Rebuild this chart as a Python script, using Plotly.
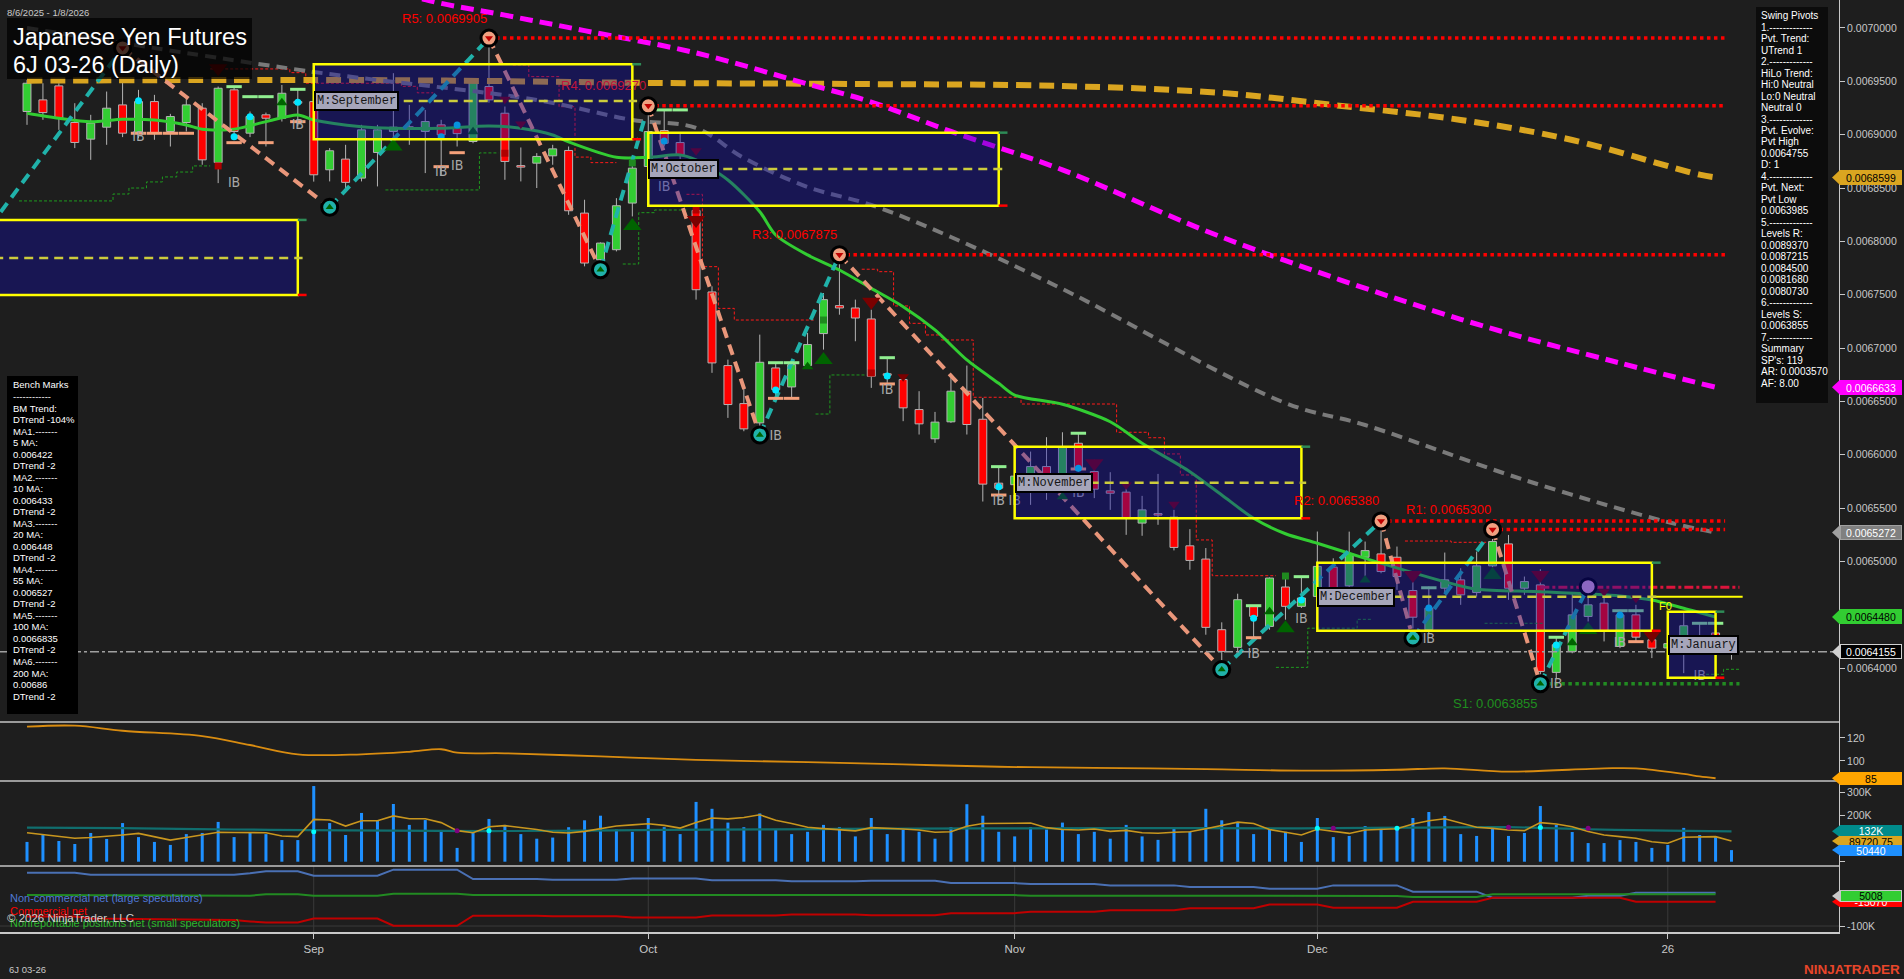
import plotly.graph_objects as go

# ====================== DATA ======================
bar_idx = list(range(108))

opens = [0.0069217, 0.0069326, 0.0069457, 0.0069114, 0.0068958, 0.0069070, 0.0069279, 0.0069014, 0.0069310, 0.0069030,
         0.0069114, 0.0069248, 0.0068739, 0.0069420, 0.0069014, 0.0069186, 0.0069154, 0.0069310, 0.0069310, 0.0068671,
         0.0068771, 0.0068593, 0.0068833, 0.0069030, 0.0069070, 0.0069030, 0.0069092, 0.0069060, 0.0068936, 0.0069451,
         0.0069201, 0.0068700, 0.0068733, 0.0068802, 0.0068852, 0.0068265, 0.0067828, 0.0067922, 0.0068359, 0.0068702,
         0.0069039, 0.0068926, 0.0068290, 0.0067526, 0.0066836, 0.0066480, 0.0066299, 0.0066814, 0.0066636, 0.0066836,
         0.0067136, 0.0067398, 0.0067376, 0.0067273, 0.0066750, 0.0066705, 0.0066424, 0.0066150, 0.0066309, 0.0066596,
         0.0066333, 0.0065734, 0.0065720, 0.0065672, 0.0065890, 0.0065678, 0.0066108, 0.0065843, 0.0065662, 0.0065650,
         0.0065360, 0.0065438, 0.0065416, 0.0065147, 0.0065023, 0.0064361, 0.0064196, 0.0064580, 0.0064392, 0.0064761,
         0.0064580, 0.0064673, 0.0064947, 0.0064772, 0.0065040, 0.0065071, 0.0065040, 0.0064728, 0.0064360, 0.0064750,
         0.0064828, 0.0064709, 0.0064959, 0.0065165, 0.0064750, 0.0064781, 0.0063961, 0.0064157, 0.0064485, 0.0064610,
         0.0064204, 0.0064500, 0.0064266, 0.0064190, 0.0064157, 0.0064298, 0.0064330, 0.0064200]
highs = [0.0069513, 0.0069482, 0.0069482, 0.0069295, 0.0069186, 0.0069404, 0.0069498, 0.0069420, 0.0069373, 0.0069195,
         0.0069357, 0.0069295, 0.0069451, 0.0069451, 0.0069217, 0.0069207, 0.0069466, 0.0069420, 0.0069330, 0.0068874,
         0.0068905, 0.0069092, 0.0069092, 0.0069576, 0.0069279, 0.0069232, 0.0069139, 0.0069092, 0.0069529, 0.0069880,
         0.0069264, 0.0068880, 0.0068827, 0.0068905, 0.0068889, 0.0068390, 0.0067990, 0.0068405, 0.0068733, 0.0069270,
         0.0069232, 0.0069014, 0.0068330, 0.0067579, 0.0066892, 0.0066627, 0.0067126, 0.0066861, 0.0066867, 0.0067142,
         0.0067516, 0.0067884, 0.0067454, 0.0067360, 0.0066908, 0.0066736, 0.0066596, 0.0066402, 0.0066721, 0.0066836,
         0.0066533, 0.0065890, 0.0065900, 0.0066030, 0.0066165, 0.0066211, 0.0066202, 0.0065952, 0.0065837, 0.0065750,
         0.0065615, 0.0065821, 0.0065484, 0.0065303, 0.0065126, 0.0064430, 0.0064698, 0.0064586, 0.0064851, 0.0064876,
         0.0064860, 0.0065281, 0.0065030, 0.0065280, 0.0065187, 0.0065380, 0.0065140, 0.0064812, 0.0064766, 0.0065084,
         0.0064937, 0.0065093, 0.0065300, 0.0065249, 0.0064859, 0.0064928, 0.0064291, 0.0064703, 0.0064764, 0.0064688,
         0.0064547, 0.0064594, 0.0064297, 0.0064330, 0.0064516, 0.0064422, 0.0064422, 0.0064300]
lows = [0.0069092, 0.0069139, 0.0069045, 0.0068874, 0.0068764, 0.0068905, 0.0068977, 0.0068967, 0.0068952, 0.0068889,
        0.0069030, 0.0068718, 0.0068546, 0.0068967, 0.0068977, 0.0068889, 0.0069123, 0.0069076, 0.0068560, 0.0068562,
        0.0068500, 0.0068562, 0.0068515, 0.0068920, 0.0068905, 0.0068640, 0.0068624, 0.0068889, 0.0068920, 0.0069300,
        0.0068577, 0.0068562, 0.0068500, 0.0068718, 0.0068249, 0.0067766, 0.0067735, 0.0067906, 0.0068234, 0.0068671,
        0.0068889, 0.0068695, 0.0067454, 0.0066768, 0.0066346, 0.0066221, 0.0066186, 0.0066533, 0.0066533, 0.0066830,
        0.0066986, 0.0067313, 0.0067064, 0.0066627, 0.0066674, 0.0066315, 0.0066190, 0.0066112, 0.0066299, 0.0066190,
        0.0065562, 0.0065562, 0.0065560, 0.0065531, 0.0065578, 0.0065578, 0.0065843, 0.0065594, 0.0065484, 0.0065250,
        0.0065241, 0.0065344, 0.0065104, 0.0064923, 0.0064314, 0.0063987, 0.0064158, 0.0064283, 0.0064361, 0.0064455,
        0.0064564, 0.0064667, 0.0064700, 0.0064734, 0.0064859, 0.0064890, 0.0064734, 0.0064283, 0.0064329, 0.0064703,
        0.0064594, 0.0064672, 0.0064946, 0.0064641, 0.0064688, 0.0063855, 0.0063908, 0.0064140, 0.0064438, 0.0064251,
        0.0064188, 0.0064245, 0.0064095, 0.0064120, 0.0063954, 0.0064188, 0.0064200, 0.0064080]
closes = [0.0069482, 0.0069207, 0.0069154, 0.0068927, 0.0069108, 0.0069248, 0.0069014, 0.0069310, 0.0069020, 0.0069170,
          0.0069279, 0.0068764, 0.0069435, 0.0069030, 0.0069170, 0.0069154, 0.0069388, 0.0069295, 0.0068624, 0.0068849,
          0.0068553, 0.0069045, 0.0069045, 0.0069070, 0.0069060, 0.0069123, 0.0068998, 0.0069010, 0.0069507, 0.0069326,
          0.0068749, 0.0068696, 0.0068796, 0.0068867, 0.0068287, 0.0067797, 0.0067984, 0.0068334, 0.0068686, 0.0069029,
          0.0068920, 0.0068811, 0.0067547, 0.0066861, 0.0066471, 0.0066243, 0.0066867, 0.0066611, 0.0066845, 0.0067033,
          0.0067454, 0.0067376, 0.0067282, 0.0066736, 0.0066745, 0.0066440, 0.0066290, 0.0066306, 0.0066596, 0.0066284,
          0.0065725, 0.0065687, 0.0065800, 0.0065890, 0.0065678, 0.0066077, 0.0065874, 0.0065678, 0.0065640, 0.0065406,
          0.0065484, 0.0065435, 0.0065132, 0.0065010, 0.0064383, 0.0064158, 0.0064642, 0.0064486, 0.0064845, 0.0064580,
          0.0064658, 0.0064954, 0.0064750, 0.0065071, 0.0065102, 0.0064906, 0.0064859, 0.0064478, 0.0064563, 0.0064828,
          0.0064688, 0.0064959, 0.0065187, 0.0064750, 0.0064812, 0.0063970, 0.0064220, 0.0064500, 0.0064594, 0.0064344,
          0.0064500, 0.0064291, 0.0064188, 0.0064230, 0.0064398, 0.0064251, 0.0064300, 0.0064155]

month_tick_idx = [18, 39, 62, 81, 103]
month_tick_text = ["Sep", "Oct", "Nov", "Dec", "26"]

# moving averages (sampled)
ma20_idx = [0, 2, 4, 6, 8, 10, 11, 13, 15, 17, 18, 21, 23, 26, 29, 31, 33, 34, 37, 39, 41, 42, 44, 46, 47, 49, 51, 53,
            55, 57, 59, 61, 62, 65, 68, 70, 73, 75, 77, 79, 81, 84, 89, 91, 95, 100, 102, 104, 106]
ma20_val = [0.0069201, 0.0069154, 0.0069122, 0.0069144, 0.0069138, 0.0069091, 0.0069051, 0.0069051, 0.0069122, 0.0069185,
            0.0069138, 0.0069075, 0.0069060, 0.0069060, 0.0069082, 0.0069060, 0.0068997, 0.0068932, 0.0068788, 0.0068788,
            0.0068810, 0.0068763, 0.0068575, 0.0068278, 0.0068060, 0.0067873, 0.0067732, 0.0067560, 0.0067388, 0.0067170,
            0.0066889, 0.0066670, 0.0066560, 0.0066473, 0.0066310, 0.0066108, 0.0065842, 0.0065623, 0.0065405, 0.0065260,
            0.0065171, 0.0065030, 0.0064811, 0.0064740, 0.0064717, 0.0064677, 0.0064639, 0.0064562, 0.0064480]
ma55_idx = [0, 18, 32, 38, 42, 45, 49, 53, 58, 65, 79, 84, 94, 103, 106]
ma55_val = [0.0070000, 0.0069588, 0.0069325, 0.0069138, 0.0069063, 0.0068782, 0.0068510, 0.0068341, 0.0068041,
            0.0067554, 0.0066485, 0.0066279, 0.0065764, 0.0065370, 0.0065272]
ma100_idx = [20, 25, 30, 35, 42, 49, 53, 58, 65, 75, 90, 100, 106]
ma100_val = [0.0070500, 0.0070265, 0.0070120, 0.0069975, 0.0069766, 0.0069475, 0.0069306, 0.0069030, 0.0068670,
             0.0068040, 0.0067270, 0.0066860, 0.0066633]
ma200_idx = [0, 18, 29, 39, 52, 65, 75, 82, 90, 97, 105, 106]
ma200_val = [0.0069506, 0.0069513, 0.0069503, 0.0069485, 0.0069475, 0.0069456, 0.0069391, 0.0069278, 0.0069138,
             0.0068950, 0.0068625, 0.0068599]

# swing pivots (zigzag)
pivot_idx = [-3, 6, 19, 29, 36, 39, 46, 51, 75, 85, 87, 92, 95, 98]
pivot_val = [0.0068005, 0.0069813, 0.0068320, 0.0069905, 0.0067735, 0.0069270, 0.0066186, 0.0067875, 0.0063987,
             0.0065380, 0.0064283, 0.0065300, 0.0063855, 0.0064764]

level_names = ["R5", "R4", "R3", "R2", "R1", "S1"]
level_idx = [29, 39, 51, 85, 92, 95]
level_val = [0.0069905, 0.0069270, 0.0067875, 0.0065380, 0.0065300, 0.0063855]
evolve_idx = 95
evolve_val = 0.0064758
last_price = 0.0064155

# monthly range boxes
month_names = ["", "M:September", "M:October", "M:November", "M:December", "M:January"]
month_start = [-3, 18, 39, 62, 81, 103]
month_end = [17, 38, 61, 80, 102, 106]
month_high = [0.0068201, 0.0069660, 0.0069019, 0.0066076, 0.0064989, 0.0064530]
month_low = [0.0067498, 0.0068957, 0.0068335, 0.0065405, 0.0064351, 0.0063911]
month_mid = [0.0067844, 0.0069316, 0.0068679, 0.0065739, 0.0064670, 0.0064221]

# trailing stop steps
stop_short_segs = [
    [(11.5, 0.0069616), (16.5, 0.0069581), (17.5, 0.0069482), (23.5, 0.0069453), (24.5, 0.0069392), (25.5, 0.0069392)],
    [(30.5, 0.0069653), (31.5, 0.0069544), (33.4, 0.0069262), (34.4, 0.0068790), (35.4, 0.0068738), (37.0, 0.0068738)],
    [(41.4, 0.0068441), (42.4, 0.0067763), (43.4, 0.0067372), (44.4, 0.0067263), (49.5, 0.0067263)],
    [(52.4, 0.0067739), (53.4, 0.0067716), (54.4, 0.0067395), (55.4, 0.0067232), (56.4, 0.0067123), (57.4, 0.0067076),
     (59.4, 0.0066539), (62.4, 0.0066476), (68.4, 0.0066211), (70.4, 0.0066160), (71.4, 0.0066008), (72.4, 0.0065811),
     (73.4, 0.0065202), (74.4, 0.0064867), (78.4, 0.0064867)],
    [(86.5, 0.0065192), (89.4, 0.0065180), (91.6, 0.0065180)],
]
stop_long_segs = [
    [(-0.5, 0.0068379), (5.4, 0.0068444), (6.4, 0.0068500), (7.5, 0.0068557), (8.5, 0.0068604), (9.4, 0.0068650),
     (10.4, 0.0068707), (11.5, 0.0068707)],
    [(22.5, 0.0068482), (28.4, 0.0068829), (29.6, 0.0068829)],
    [(37.4, 0.0067788), (38.4, 0.0068269), (39.4, 0.0068294), (41.4, 0.0068294)],
    [(49.5, 0.0066382), (50.4, 0.0066748), (52.6, 0.0066748)],
    [(78.4, 0.0064008), (80.4, 0.0064375), (83.5, 0.0064458), (84.4, 0.0064458)],
    [(91.5, 0.0064421), (95.2, 0.0064421)],
    [(105.4, 0.0063943), (106.5, 0.0063990), (107.5, 0.0063990)],
]

# signal markers
tri_dn_big_idx = [12, 42, 53, 67, 87, 95, 102]
tri_dn_big_val = [0.0069622, 0.0068201, 0.0067435, 0.0065920, 0.0064873, 0.0064873, 0.0064311]
tri_dn_small_idx = [30, 31, 42, 55, 69, 72, 99, 101]
tri_dn_small_val = [0.0069332, 0.0069100, 0.0068850, 0.0066732, 0.0065717, 0.0065536, 0.0064717, 0.0064655]
tri_up_big_idx = [23, 38, 50, 79, 92, 98]
tri_up_big_val = [0.0068888, 0.0068144, 0.0066889, 0.0064374, 0.0064873, 0.0064358]
tri_up_small_idx = [16, 22, 28, 49, 65, 78, 84, 97]
tri_up_small_val = [0.0069300, 0.0069300, 0.0069028, 0.0066826, 0.0065607, 0.0064530, 0.0064827, 0.0064239]
cyan_dot_idx = [7, 13, 14, 17, 26, 27, 40, 47, 54, 61, 66, 77, 80, 88, 96, 100]
cyan_dot_val = [0.0069319, 0.0068981, 0.0069169, 0.0069304, 0.0068981, 0.0069091, 0.0068941, 0.0066607, 0.0066739,
                0.0065701, 0.0065873, 0.0064468, 0.0064639, 0.0064564, 0.0064218, 0.0064499]
lg_dash_idx = [13, 14, 15, 17, 40, 41, 47, 48, 54, 61, 66, 77, 80, 88, 96, 100, 101, 105, 106]
lg_dash_val = [0.0069450, 0.0069356, 0.0069356, 0.0069425, 0.0069232, 0.0069232, 0.0066863, 0.0066863, 0.0066910,
               0.0065889, 0.0066202, 0.0064586, 0.0064858, 0.0064754, 0.0064290, 0.0064539, 0.0064539, 0.0064421,
               0.0064421]
salmon_dash_idx = [7, 8, 9, 10, 13, 15, 17, 26, 27, 47, 48, 54, 61, 66, 77, 101]
salmon_dash_val = [0.0069013, 0.0069013, 0.0069013, 0.0069013, 0.0068925, 0.0068925, 0.0069122, 0.0068700, 0.0068831,
                   0.0066529, 0.0066529, 0.0066664, 0.0065623, 0.0065867, 0.0064286, 0.0064249]
ib_idx = [7, 13, 17, 26, 27, 40, 47, 54, 61, 62, 66, 77, 80, 88, 96, 100, 105]
ib_val = [0.0068969, 0.0068547, 0.0069082, 0.0068644, 0.0068700, 0.0068503, 0.0066176, 0.0066607, 0.0065560,
          0.0065560, 0.0065639, 0.0064133, 0.0064452, 0.0064271, 0.0063843, 0.0064233, 0.0063927]
red_sq_idx = [12, 30, 42, 53]
red_sq_val = [0.0068707, 0.0068826, 0.0068294, 0.0066767]
green_sq_idx = [38, 50, 79]
green_sq_val = [0.0068735, 0.0067263, 0.0064864]

# oscillator panel
osc_idx = [0, 3, 6, 11, 14, 17, 21, 24, 26, 27, 30, 36, 42, 49, 55, 61, 67, 74, 80, 86, 89, 93, 99, 101, 104, 105, 106]
osc_val = [129.8, 130.7, 126.3, 121.7, 113.9, 105.8, 105.8, 108, 110.2, 107.2, 106.7, 104, 101, 99, 97, 95, 94, 93,
           91.6, 92.4, 93.6, 90.7, 93.6, 93.6, 88.7, 86.6, 85]

# volume panel (thousands of contracts)
volume_k = [86, 116, 90, 77, 125, 99, 168, 107, 86, 73, 120, 125, 173, 107, 129, 120, 94, 94, 329, 168,
            116, 212, 177, 251, 160, 181, 129, 60, 125, 186,
            160, 120, 100, 105, 150, 180, 200, 140, 130, 190, 150, 120, 260, 230, 170, 150, 210, 140, 120, 130,
            160, 150, 110, 190, 120, 140, 130, 100, 150, 250, 200, 130, 110, 150, 140, 170, 120, 130, 100, 160,
            110, 95, 150, 130, 230, 180, 170, 120, 140, 130,
            86, 190, 107, 112, 155, 147, 147, 190, 216, 199, 120, 112, 147, 112, 125, 242, 160, 129, 81, 81,
            94, 86, 60, 73, 147, 116, 107, 50.44]
volume_fast_k = [126, 118, 110, 102, 105, 109, 116, 123, 108, 94, 105, 118, 128, 127, 126, 126, 112, 109, 184, 181,
                 155, 178, 178, 199, 187, 187, 170, 135, 126, 152,
                 157, 150, 140, 128, 125, 132, 145, 155, 160, 165, 158, 146, 170, 190, 186, 192, 204, 180, 166, 150,
                 144, 140, 134, 148, 146, 142, 138, 128, 130, 154, 166, 166, 168, 168, 148, 140, 138, 142, 132, 136,
                 126, 124, 128, 130, 143, 159, 172, 166, 140, 128,
                 116, 141, 131, 123, 138, 141, 143, 164, 178, 187, 167, 150, 145, 138, 135, 170, 164, 152, 131, 116,
                 109, 102, 87, 80, 106, 109, 109, 89.72075]
volume_slow_idx = [0, 6, 13, 20, 29, 40, 50, 60, 70, 80, 87, 93, 98, 103, 107]
volume_slow_k = [148, 146, 140, 136, 133, 138, 142, 145, 146, 145, 148, 150, 141, 135, 132]
vol_cyan_idx = [18, 29, 81, 86, 95]
vol_cyan_k = [130, 135, 145, 145, 149]
vol_purple_idx = [27, 82, 93, 98]
vol_purple_k = [135, 145, 150, 145]

# COT panel (thousands of contracts)
cot_idx = [0, 3, 4, 13, 14, 15, 17, 18, 22, 23, 27, 28, 32, 33, 37, 38, 42, 43, 47, 48, 52, 53, 57, 58, 62, 63, 67,
           68, 72, 73, 77, 78, 81, 82, 86, 87, 91, 92, 97, 98, 100, 101, 106]
cot_noncomm_k = [86, 86, 79, 79, 84, 91, 91, 76, 76, 97, 97, 64, 64, 62, 62, 66, 66, 60, 60, 56, 56, 58, 58, 50, 50,
                 47, 47, 42, 42, 36, 36, 30, 30, 42, 42, 20, 20, -1, -1, 6, 6, 16, 16]
cot_nonrep_k = [8, 8, 8, 6, 6, 11, 11, 6, 6, 13, 13, 8, 8, 9, 9, 9, 9, 7, 7, 7, 7, 8, 8, 8, 8, 6, 6, 6, 6, 5, 5, 5,
                5, 5, 5, 1.4, 1.4, 11, 11, 11, 11, 11, 11]
cot_comm_k = [-67, -67, -74, -79, -84, -88, -88, -74, -74, -99, -99, -64, -64, -66, -66, -70, -70, -63, -63, -60, -60,
              -62, -62, -55, -55, -50, -50, -45, -45, -38, -38, -25, -25, -36, -36, -15, -15, -1, -1, -1, -1, -15,
              -15]
cot_last_nonrep = 5008
cot_last_comm = -15070

bench_lines = ["Bench Marks", "------------", "BM Trend:", "DTrend -104%", "MA1.-------", "5 MA:", "0.006422",
               "DTrend -2", "MA2.-------", "10 MA:", "0.006433", "DTrend -2", "MA3.-------", "20 MA:", "0.006448",
               "DTrend -2", "MA4.-------", "55 MA:", "0.006527", "DTrend -2", "MA5.-------", "100 MA:",
               "0.0066835", "DTrend -2", "MA6.-------", "200 MA:", "0.00686", "DTrend -2"]
pivot_lines = ["Swing Pivots", "1.-------------", "Pvt. Trend:", "UTrend 1", "2.-------------", "HiLo Trend:",
               "Hi:0 Neutral", "Lo:0 Neutral", "Neutral 0", "3.-------------", "Pvt. Evolve:", "Pvt High",
               "0.0064755", "D: 1", "4.-------------", "Pvt. Next:", "Pvt Low", "0.0063985", "5.-------------",
               "Levels R:", "0.0089370", "0.0087215", "0.0084500", "0.0081680", "0.0080730", "6.-------------",
               "Levels S:", "0.0063855", "7.-------------", "Summary", "SP's: 119", "AR: 0.0003570", "AF: 8.00"]

# ====================== STYLE / LAYOUT ======================
BG = "#1e1e1e"
AX = "#c8c8c8"
FONT = "Liberation Sans, Arial, sans-serif"
MONO = "Liberation Mono, Courier New, monospace"
PR = 1839.0   # right edge of plotting area (px)
PB = 932.0    # bottom of plotting area (px)
BAR_PX = 15.93
X0 = -27 / BAR_PX
X1 = (PR - 27) / BAR_PX
LEVEL_END = 106.6

panel_px = {"y": (0, 722), "y2": (722, 781), "y3": (781, 866), "y4": (866, 932)}
ranges = {"y": [0.0063496, 0.0070262], "y2": [82.6, 133.9], "y3": [-18.7, 350.9], "y4": [-120.9, 109.7]}


def py(ypx):
    return 1 - ypx / PB


def pxp(xpx):
    return xpx / PR


def v2px(v, ax):
    top, bot = panel_px[ax]
    lo, hi = ranges[ax]
    return bot - (v - lo) / (hi - lo) * (bot - top)


fig = go.Figure()
shapes = []
annotations = []

# ---- candles ----
wx, wy = [], []
for i, o, h, l, c in zip(bar_idx, opens, highs, lows, closes):
    wx += [i, i, None, i, i, None]
    wy += [h, max(o, c), None, min(o, c), l, None]
fig.add_trace(go.Scatter(x=wx, y=wy, mode="lines", line=dict(color="#b4b4b4", width=1), yaxis="y",
                         hoverinfo="skip"))
fig.add_trace(go.Bar(x=bar_idx, y=[max(abs(c - o), 1.4e-6) for o, c in zip(opens, closes)],
                     base=[min(o, c) for o, c in zip(opens, closes)], width=0.5,
                     marker=dict(color=["#32cd32" if c >= o else "#ff0000" for o, c in zip(opens, closes)],
                                 line=dict(color="#b4b4b4", width=1)),
                     yaxis="y", hoverinfo="skip"))

# ---- trailing stop steps ----
for seg in stop_short_segs:
    fig.add_trace(go.Scatter(x=[p[0] for p in seg], y=[p[1] for p in seg], mode="lines", line_shape="hv",
                             line=dict(color="#ff1a1a", width=1, dash="3px,2px"), yaxis="y", hoverinfo="skip"))
for seg in stop_long_segs:
    fig.add_trace(go.Scatter(x=[p[0] for p in seg], y=[p[1] for p in seg], mode="lines", line_shape="hv",
                             line=dict(color="#1f9a1f", width=1, dash="3px,2px"), yaxis="y", hoverinfo="skip"))

# ---- moving averages ----
fig.add_trace(go.Scatter(x=ma200_idx, y=ma200_val, mode="lines", line_shape="spline",
                         line=dict(color="#daa520", width=6, dash="15px,8px"), yaxis="y", hoverinfo="skip"))
fig.add_trace(go.Scatter(x=ma55_idx, y=ma55_val, mode="lines", line_shape="spline",
                         line=dict(color="#7a7a7a", width=4, dash="11px,7px"), yaxis="y", hoverinfo="skip"))
fig.add_trace(go.Scatter(x=ma100_idx, y=ma100_val, mode="lines", line_shape="spline",
                         line=dict(color="#ff00ff", width=5, dash="13px,7px"), yaxis="y", hoverinfo="skip"))
fig.add_trace(go.Scatter(x=ma20_idx, y=ma20_val, mode="lines", line_shape="spline",
                         line=dict(color="#32cd32", width=3, smoothing=0.8), yaxis="y", hoverinfo="skip"))

# ---- levels ----
for name, i, v in zip(level_names, level_idx, level_val):
    is_s = name.startswith("S")
    col = "#228b22" if is_s else "#ff0000"
    fig.add_trace(go.Scatter(x=[i, 107.5 if is_s else LEVEL_END], y=[v, v], mode="lines",
                             line=dict(color=col, width=3.5, dash="dot"), yaxis="y", hoverinfo="skip"))
fig.add_trace(go.Scatter(x=[evolve_idx, 107.5], y=[evolve_val, evolve_val], mode="lines",
                         line=dict(color="#dc143c", width=3, dash="dashdot"), yaxis="y", hoverinfo="skip"))
fig.add_trace(go.Scatter(x=[month_end[4], 107.7], y=[month_mid[4], month_mid[4]], mode="lines",
                         line=dict(color="#ffff00", width=2), yaxis="y", hoverinfo="skip"))

# ---- zigzag ----
for k in range(len(pivot_idx) - 1):
    up = pivot_val[k + 1] > pivot_val[k]
    fig.add_trace(go.Scatter(x=[pivot_idx[k], pivot_idx[k + 1]], y=[pivot_val[k], pivot_val[k + 1]], mode="lines",
                             line=dict(color="#20b2aa" if up else "#e9967a", width=4, dash="11px,7px"),
                             yaxis="y", hoverinfo="skip"))


# ---- small signal markers ----
def mk(xs, ys, **m):
    fig.add_trace(go.Scatter(x=xs, y=ys, mode="markers", marker=m, yaxis="y", hoverinfo="skip"))


mk(lg_dash_idx, lg_dash_val, symbol="line-ew", size=11, line=dict(color="#90ee90", width=3))
mk(salmon_dash_idx, salmon_dash_val, symbol="line-ew", size=11, line=dict(color="#f4a07a", width=3))
mk(red_sq_idx, red_sq_val, symbol="square", size=7, color="#b00000")
mk(green_sq_idx, green_sq_val, symbol="square", size=7, color="#1f8a1f")
mk(cyan_dot_idx, cyan_dot_val, symbol="circle", size=7, color="#00e5ff")
mk(tri_dn_big_idx, tri_dn_big_val, symbol="triangle-down", size=16, color="#7a0000")
mk(tri_dn_small_idx, tri_dn_small_val, symbol="triangle-down", size=10, color="#7a0000")
mk(tri_up_big_idx, tri_up_big_val, symbol="triangle-up", size=16, color="#006400")
mk(tri_up_small_idx, tri_up_small_val, symbol="triangle-up", size=10, color="#006400")

# ---- pivot circles ----
hi_x, hi_y, lo_x, lo_y = [], [], [], []
for k in range(1, len(pivot_idx) - 1):
    if pivot_val[k] > pivot_val[k - 1]:
        hi_x.append(pivot_idx[k]); hi_y.append(pivot_val[k])
    else:
        lo_x.append(pivot_idx[k]); lo_y.append(pivot_val[k])
mk(hi_x, hi_y, symbol="circle", size=16, color="#f0a080", line=dict(color="#000000", width=3))
mk(lo_x, lo_y, symbol="circle", size=16, color="#20b2aa", line=dict(color="#000000", width=3))
mk([pivot_idx[-1]], [pivot_val[-1]], symbol="circle", size=16, color="#d8a0d0", line=dict(color="#000000", width=3))
mk(hi_x, hi_y, symbol="triangle-down", size=7, color="#c00000")
mk(lo_x, lo_y, symbol="triangle-up", size=7, color="#006400")

fig.add_trace(go.Scatter(x=ib_idx, y=ib_val, mode="text", text=["IB"] * len(ib_idx),
                         textfont=dict(family="DejaVu Sans Condensed, Arial Narrow, Arial", size=14, color="#a8a8a8"),
                         yaxis="y", hoverinfo="skip"))

# ---- oscillator panel ----
fig.add_trace(go.Scatter(x=osc_idx, y=osc_val, mode="lines", line_shape="spline",
                         line=dict(color="#d98c10", width=1.8), yaxis="y2", hoverinfo="skip"))

# ---- volume panel ----
fig.add_trace(go.Bar(x=bar_idx, y=volume_k, width=0.19, marker=dict(color="#1e90ff", line=dict(width=0)),
                     yaxis="y3", hoverinfo="skip"))
fig.add_trace(go.Scatter(x=volume_slow_idx, y=volume_slow_k, mode="lines", line_shape="spline",
                         line=dict(color="#106e6e", width=2.2), yaxis="y3", hoverinfo="skip"))
fig.add_trace(go.Scatter(x=bar_idx, y=volume_fast_k, mode="lines", line=dict(color="#c8961e", width=1.6),
                         yaxis="y3", hoverinfo="skip"))
fig.add_trace(go.Scatter(x=vol_cyan_idx, y=vol_cyan_k, mode="markers", marker=dict(color="#00ffff", size=5),
                         yaxis="y3", hoverinfo="skip"))
fig.add_trace(go.Scatter(x=vol_purple_idx, y=vol_purple_k, mode="markers", marker=dict(color="#800080", size=5),
                         yaxis="y3", hoverinfo="skip"))

# ---- COT panel ----
fig.add_trace(go.Scatter(x=cot_idx, y=cot_noncomm_k, mode="lines", line=dict(color="#4a70b4", width=2),
                         yaxis="y4", hoverinfo="skip"))
fig.add_trace(go.Scatter(x=cot_idx, y=cot_nonrep_k, mode="lines", line=dict(color="#228b22", width=2),
                         yaxis="y4", hoverinfo="skip"))
fig.add_trace(go.Scatter(x=cot_idx, y=cot_comm_k, mode="lines", line=dict(color="#c00000", width=2),
                         yaxis="y4", hoverinfo="skip"))

# ---- month boxes (translucent, above) ----
for name, i0, i1, hi, lo, mid in zip(month_names, month_start, month_end, month_high, month_low, month_mid):
    shapes.append(dict(type="rect", xref="x", yref="y", x0=i0, x1=i1, y0=lo, y1=hi,
                       fillcolor="rgba(15,10,170,0.38)", line=dict(color="#ffff00", width=2.5), layer="above"))
    shapes.append(dict(type="line", xref="x", yref="y", x0=i0, x1=i1 + 0.3, y0=mid, y1=mid,
                       line=dict(color="#cccc3c", width=2.5, dash="9px,6px"), layer="above"))
    shapes.append(dict(type="line", xref="x", yref="y", x0=i1, x1=i1 + 0.55, y0=hi, y1=hi,
                       line=dict(color="#2e8b57", width=2.5), layer="above"))
    shapes.append(dict(type="line", xref="x", yref="y", x0=i1, x1=i1 + 0.55, y0=lo, y1=lo,
                       line=dict(color="#ff0000", width=2.5), layer="above"))
    if name:
        annotations.append(dict(x=i0, y=mid, xref="x", yref="y", xanchor="left", yanchor="middle", text=name,
                                showarrow=False, bgcolor="#a6a6ba", bordercolor="#000000", borderwidth=2,
                                borderpad=1, font=dict(family=MONO, size=12, color="#161616")))

annotations.append(dict(x=month_end[4] + 0.3, y=month_mid[4], xref="x", yref="y", xanchor="left",
                        yanchor="top", yshift=-1, text="F0", showarrow=False,
                        font=dict(family=FONT, size=11, color="#ffff00")))

# level labels
for name, i, v in zip(level_names, level_idx, level_val):
    is_s = name.startswith("S")
    col = "#1f8f1f" if is_s else ("#c2143c" if name == "R4" else "#ff0000")
    annotations.append(dict(x=i, y=v, xref="x", yref="y", xanchor="right", yanchor="middle",
                            yshift=-20 if is_s else 20, text=f"{name}: {v:.7f}", showarrow=False,
                            font=dict(family=FONT, size=13, color=col)))

# last price dash-dot
shapes.append(dict(type="line", xref="paper", yref="y", x0=0, x1=1, y0=last_price, y1=last_price,
                   line=dict(color="#a0a0a0", width=1.5, dash="dashdot"), layer="above"))

# panel separators
for ypx in (722, 781, 866):
    shapes.append(dict(type="line", xref="paper", yref="paper", x0=0, x1=1, y0=py(ypx), y1=py(ypx),
                       line=dict(color="#c4c4c4", width=1.5), layer="above"))
# COT grid
shapes.append(dict(type="line", xref="paper", yref="y4", x0=0, x1=1, y0=-100, y1=-100,
                   line=dict(color="#3a3a3a", width=1), layer="below"))
for t in month_tick_idx:
    shapes.append(dict(type="line", xref="x", yref="paper", x0=t, x1=t, y0=py(932), y1=py(866),
                       line=dict(color="#3a3a3a", width=1), layer="below"))

# text boxes
shapes.append(dict(type="rect", xref="paper", yref="paper", x0=pxp(7), x1=pxp(252), y0=py(79), y1=py(18),
                   fillcolor="rgba(0,0,0,0.72)", line=dict(width=0), layer="above"))
shapes.append(dict(type="rect", xref="paper", yref="paper", x0=pxp(7), x1=pxp(78), y0=py(714), y1=py(376),
                   fillcolor="#000000", line=dict(width=0), layer="above"))
shapes.append(dict(type="rect", xref="paper", yref="paper", x0=pxp(1756), x1=pxp(1828), y0=py(403), y1=py(7),
                   fillcolor="#0c0c0c", line=dict(width=0), layer="above"))


def txt(xpx, ypx, text, size, color, family=FONT, xanchor="left"):
    annotations.append(dict(x=pxp(xpx), y=py(ypx), xref="paper", yref="paper", xanchor=xanchor,
                            yanchor="middle", text=text, showarrow=False,
                            font=dict(family=family, size=size, color=color)))


txt(5, 12, "8/6/2025 - 1/8/2026", 9.5, "#c8c8c8")
txt(11, 37, "Japanese Yen Futures", 23.5, "#ffffff")
txt(11, 65, "6J 03-26 (Daily)", 23.5, "#ffffff")
for k, line in enumerate(bench_lines):
    txt(11, 385 + k * 11.52, line, 9.5, "#ffffff")
for k, line in enumerate(pivot_lines):
    txt(1759, 15.7 + k * 11.48, line, 10, "#ffffff")

# COT legend + copyright (overlapping, as drawn in the original)
txt(8, 898, "Non-commercial net (large speculators)", 11, "#4f79d8")
txt(8, 910.5, "Commercial net", 11, "#ff0000")
txt(8, 922.5, "Nonreportable positions net (small speculators)", 11, "#2bb82b")
txt(5, 918, "© 2026 NinjaTrader, LLC", 11.5, "#d0d0d0")
txt(7, 969, "6J 03-26", 9.5, "#c8c8c8")
txt(1902, 969, "<b>NINJATRADER</b>", 13.5, "#e8462a", xanchor="right")


# right-axis value tags
def add_tag(ax, value, text, bg, fg, h, border=None):
    ypx = v2px(value, ax)
    shapes.append(dict(type="path", xref="paper", yref="paper",
                       path=f"M {pxp(1832)},{py(ypx)} L {pxp(1840)},{py(ypx - h / 2)} L {pxp(1840)},{py(ypx + h / 2)} Z",
                       fillcolor=border or bg, line=dict(width=0), layer="above"))
    annotations.append(dict(x=pxp(1840), y=py(ypx), xref="paper", yref="paper", xanchor="left", yanchor="middle",
                            text=text, showarrow=False, bgcolor=bg, bordercolor=border or bg, borderwidth=1,
                            borderpad=0, width=60, height=h - 2, align="center",
                            font=dict(family=FONT, size=10.5, color=fg)))


add_tag("y", ma200_val[-1], f"{ma200_val[-1]:.7f}", "#daa520", "#000000", 15)
add_tag("y", ma100_val[-1], f"{ma100_val[-1]:.7f}", "#ff00ff", "#ffffff", 15)
add_tag("y", ma55_val[-1], f"{ma55_val[-1]:.7f}", "#808080", "#ffffff", 15, border="#a0a0a0")
add_tag("y", ma20_val[-1], f"{ma20_val[-1]:.7f}", "#32cd32", "#000000", 15)
add_tag("y", last_price, f"{last_price:.7f}", "#000000", "#ffffff", 15, border="#d0d0d0")
add_tag("y2", osc_val[-1], f"{osc_val[-1]:.0f}", "#ffa500", "#000000", 13)
add_tag("y3", volume_slow_k[-1], f"{volume_slow_k[-1]:.0f}K", "#008b8b", "#ffffff", 12)
add_tag("y3", volume_fast_k[-1], f"{volume_fast_k[-1] * 1000:.2f}", "#daa520", "#000000", 11)
add_tag("y3", volume_k[-1], f"{volume_k[-1] * 1000:.0f}", "#1e90ff", "#ffffff", 11)
add_tag("y4", cot_last_comm / 1000, f"{cot_last_comm}", "#ff0000", "#ffffff", 11)
add_tag("y4", cot_last_nonrep / 1000, f"{cot_last_nonrep}", "#32cd32", "#000000", 12, border="#c8c8c8")

yax_common = dict(side="right", anchor="x", showgrid=False, zeroline=False, showline=True, linecolor=AX,
                  linewidth=1, ticks="outside", ticklen=5, tickcolor=AX, automargin=False, fixedrange=True,
                  tickfont=dict(family=FONT, size=10.5, color=AX))

price_ticks = [0.0070, 0.00695, 0.0069, 0.00685, 0.0068, 0.00675, 0.0067, 0.00665, 0.0066, 0.00655, 0.0065, 0.0064]

fig.update_layout(
    width=1904, height=979, margin=dict(l=0, r=1904 - PR, t=0, b=979 - PB, pad=0),
    paper_bgcolor=BG, plot_bgcolor=BG, template="none", showlegend=False, hovermode=False,
    barmode="overlay", font=dict(family=FONT, color=AX),
    xaxis=dict(range=[X0, X1], domain=[0, 1], anchor="y4", showgrid=False, zeroline=False, showline=True,
               linecolor=AX, linewidth=1.5, tickmode="array", tickvals=month_tick_idx, ticktext=month_tick_text,
               ticks="outside", ticklen=5, tickcolor=AX, tickfont=dict(family=FONT, size=11.5, color=AX),
               rangeslider=dict(visible=False), fixedrange=True, automargin=False),
    yaxis=dict(domain=[py(722), 1], range=ranges["y"], tickmode="array", tickvals=price_ticks,
               ticktext=[f"{v:.7f}" for v in price_ticks], **yax_common),
    yaxis2=dict(domain=[py(781), py(722)], range=ranges["y2"], tickmode="array", tickvals=[100, 120],
                ticktext=["100", "120"], **yax_common),
    yaxis3=dict(domain=[py(866), py(781)], range=ranges["y3"], tickmode="array", tickvals=[0, 200, 300],
                ticktext=["", "200K", "300K"], **yax_common),
    yaxis4=dict(domain=[0, py(866)], range=ranges["y4"], tickmode="array", tickvals=[-100],
                ticktext=["-100K"], **yax_common),
    shapes=shapes, annotations=annotations,
)

fig.write_html("out.html", config={"displayModeBar": False},
               post_script="document.body.style.margin='0';document.body.style.overflow='hidden';")
